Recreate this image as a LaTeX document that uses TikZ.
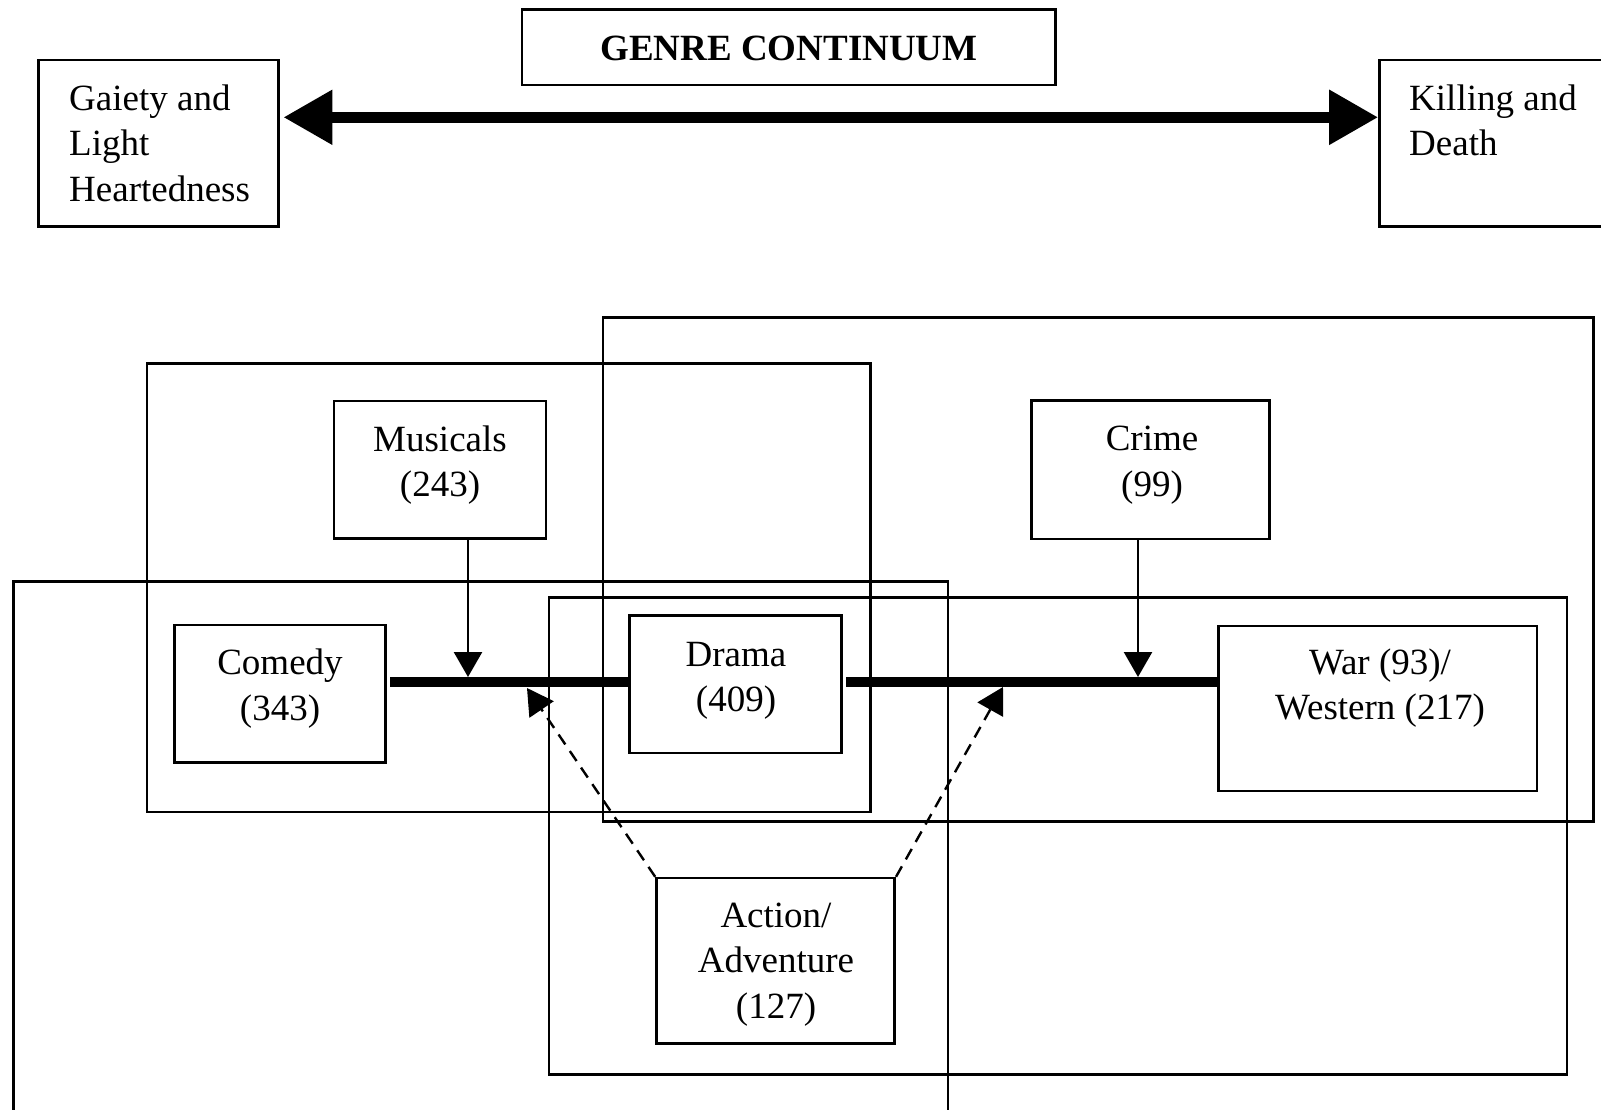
\documentclass[tikz,border=0pt]{standalone}
\usepackage{fontspec}
\setmainfont{Liberation Serif}
\usetikzlibrary{arrows.meta}
\begin{document}
\begin{tikzpicture}[x=1pt,y=-1pt,
  bx/.style={draw, line width=2.6pt, inner sep=0pt},
  txt/.style={inner sep=0pt, font=\fontsize{37}{45.5}\selectfont},
  thickln/.style={line width=10.5pt},
  bigarrow/.style={line width=11.5pt, {Triangle[length=49pt,width=52pt]}-{Triangle[length=49pt,width=52pt]}},
  thinarrow/.style={line width=2.6pt, -{Triangle[length=25pt,width=28pt]}},
  dasharrow/.style={line width=2.4pt, dash pattern=on 12pt off 8pt, -{Triangle[length=26pt,width=29pt]}}
]
\useasboundingbox (0,0) rectangle (1601,1110);
\clip (0,0) rectangle (1601,1110);
% top row
\node[bx, minimum width=533.5pt, minimum height=75.7pt] (genre) at (788.75,47.15) {};
\node[txt, anchor=base, font=\fontsize{37}{45.5}\selectfont\bfseries] (genret) at (789,61) {GENRE CONTINUUM};
\node[bx, minimum width=240.3pt, minimum height=166.7pt] (gaiety) at (158.45,143.35) {};
\node[txt, anchor=west, align=left] (gaietyt) at (69,142.9) {Gaiety and\\Light\\Heartedness};
\node[bx, minimum width=230.5pt, minimum height=166.7pt] (killing) at (1494.75,143.35) {};
\node[txt, anchor=west, align=left] (killingt) at (1409,120.1) {Killing and\\Death};
\coordinate (ay) at (0,117.3);
\draw[bigarrow, shorten <=3.5pt] (gaiety.east |- ay) -- (killing.west |- ay);
% group boxes
\node[bx, minimum width=990.5pt, minimum height=504pt] (grpA) at (1098.25,569.5) {};
\node[bx, minimum width=723.5pt, minimum height=448.5pt] (grpB) at (508.75,587.75) {};
\node[bx, minimum width=934.5pt, minimum height=530.3pt] (grpC) at (480.75,846.85) {};
\node[bx, minimum width=1018pt, minimum height=477.2pt] (grpD) at (1058,835.9) {};
% genre boxes
\node[bx, minimum width=212pt, minimum height=137.5pt] (musicals) at (440,469.75) {};
\node[txt, align=center] (musicalst) at (440,465.3) {Musicals\\(243)};
\node[bx, minimum width=238pt, minimum height=138.3pt] (crime) at (1150.7,469.85) {};
\node[txt, align=center] (crimet) at (1152,465.3) {Crime\\(99)};
\node[bx, minimum width=210.7pt, minimum height=137.7pt] (comedy) at (279.85,693.85) {};
\node[txt, align=center] (comedyt) at (280,688.8) {Comedy\\(343)};
\node[bx, minimum width=211.9pt, minimum height=137.5pt] (drama) at (735.45,684.15) {};
\node[txt, align=center] (dramat) at (736,680.7) {Drama\\(409)};
\node[bx, minimum width=318.6pt, minimum height=165pt] (war) at (1377.7,708.5) {};
\node[txt, align=center] (wart) at (1380,688.2) {War (93)/\\Western (217)};
\node[bx, minimum width=238.2pt, minimum height=165.2pt] (action) at (775.6,960.7) {};
\node[txt, align=center] (actiont) at (776,964.2) {Action/\\Adventure\\(127)};
% continuum line
\coordinate (ly) at (0,682);
\draw[thickln, shorten <=3.5pt] (comedy.east |- ly) -- (drama.west |- ly);
\draw[thickln, shorten <=3.5pt] (drama.east |- ly) -- (war.west |- ly);
% arrows onto the line
\coordinate (mtip) at (468,677);
\coordinate (ctip) at (1138,677);
\draw[thinarrow] (musicals.south -| mtip) -- (mtip);
\draw[thinarrow] (crime.south -| ctip) -- (ctip);
\coordinate (dtipL) at (527,688);
\coordinate (dtipR) at (1003,687);
\draw[dasharrow] (action.north west) -- (dtipL);
\draw[dasharrow] (action.north east) -- (dtipR);
\end{tikzpicture}
\end{document}
